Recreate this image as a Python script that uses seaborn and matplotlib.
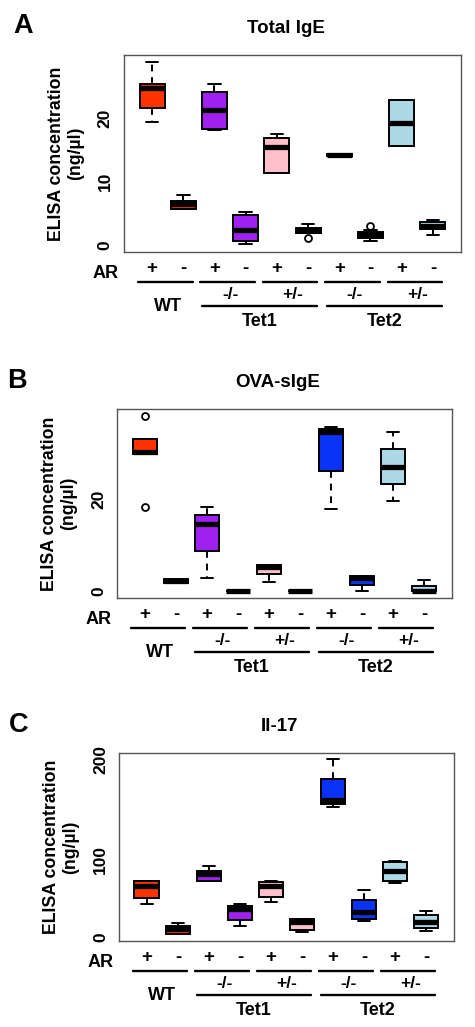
import numpy as np
import pandas as pd
import matplotlib
matplotlib.use('Agg')
import matplotlib.pyplot as plt
import matplotlib.transforms as mtransforms
import seaborn as sns

# groups (genotype x allergic rhinitis)
genotype = ['WT', 'WT', 'Tet1 -/-', 'Tet1 -/-', 'Tet1 +/-', 'Tet1 +/-',
            'Tet2 -/-', 'Tet2 -/-', 'Tet2 +/-', 'Tet2 +/-']
ar = ['+', '-', '+', '-', '+', '-', '+', '-', '+', '-']
box_colors = ['#FF3300', '#FF3300', '#A020F0', '#A020F0', '#FFC0CB', '#FFC0CB',
              '#0A33F5', '#0A33F5', '#ADD8E6', '#ADD8E6']

total_ige = [
    [19.4, 21.6, 24.8, 25.4, 28.8],
    [5.65, 5.65, 6.5, 6.96, 7.85],
    [18.1, 18.35, 21.2, 24.05, 25.3],
    [0.1, 0.58, 2.36, 4.66, 5.2],
    [11.3, 11.4, 15.5, 16.8, 17.5],
    [1.83, 1.83, 2.36, 2.67, 3.2],
    [13.95, 14.0, 14.1, 14.25, 14.3],
    [0.58, 1.0, 1.5, 1.94, 2.36],
    [15.65, 15.65, 19.2, 22.9, 22.9],
    [1.57, 2.46, 2.9, 3.6, 3.9],
]
total_ige_out_idx = [5, 7]
total_ige_out_val = [1.1, 2.9]

ova_sige = [
    [29.7, 29.7, 30.2, 32.9, 32.9],
    [1.8, 1.8, 2.2, 2.6, 2.6],
    [2.75, 8.65, 14.6, 16.4, 18.2],
    [0.0, 0.02, 0.05, 0.1, 0.15],
    [1.9, 3.6, 5.2, 5.75, 5.75],
    [0.0, 0.02, 0.05, 0.1, 0.15],
    [17.7, 26.0, 34.5, 35.1, 35.7],
    [0.0, 1.4, 2.9, 3.2, 3.2],
    [19.55, 23.2, 27.0, 30.8, 34.5],
    [0.0, 0.0, 0.1, 1.16, 2.4],
]
ova_sige_out_idx = [0, 0]
ova_sige_out_val = [38.0, 18.2]

il17 = [
    [55.7, 61.3, 73.3, 78.7, 78.7],
    [25.0, 25.0, 30.0, 33.0, 36.0],
    [78.0, 78.0, 85.7, 88.3, 93.0],
    [32.7, 38.7, 50.0, 53.0, 55.3],
    [57.0, 62.0, 73.3, 77.3, 78.7],
    [27.3, 29.0, 36.7, 40.0, 40.0],
    [152.3, 155.7, 160.0, 180.7, 200.5],
    [38.3, 40.0, 46.7, 59.3, 69.3],
    [76.0, 78.7, 88.3, 97.7, 98.3],
    [28.3, 30.7, 37.3, 44.3, 47.7],
]

sns.set_style('white')
plt.rcParams['font.family'] = ['Liberation Sans', 'DejaVu Sans']
plt.rcParams['font.weight'] = 'bold'
plt.rcParams['text.color'] = 'black'
plt.rcParams['axes.labelcolor'] = 'black'
plt.rcParams['xtick.color'] = 'black'
plt.rcParams['ytick.color'] = 'black'

group_order = [f'{g} {a}' for g, a in zip(genotype, ar)]
palette = dict(zip(group_order, box_colors))


def below(ax, px):
    # x in data, y = axis bottom shifted down by px pixels
    base = mtransforms.blended_transform_factory(ax.transData, ax.transAxes)
    return base + mtransforms.ScaledTranslation(0, -px / 100.0, ax.figure.dpi_scale_trans)


def draw_panel(ax, values, out_idx, out_val, title, letter, ylim, yticks, ylabels):
    df = pd.DataFrame({
        'group': np.repeat(group_order, [len(v) for v in values]),
        'value': np.concatenate(values),
    })
    sns.boxplot(data=df, x='group', y='value', hue='group', order=group_order,
                palette=palette, saturation=1, whis=np.inf, width=0.8,
                linecolor='black', linewidth=1.4, legend=False, ax=ax,
                medianprops={'linewidth': 3.8, 'color': 'black', 'solid_capstyle': 'butt'},
                whiskerprops={'linestyle': (0, (3.5, 3))})
    if out_idx:
        odf = pd.DataFrame({'group': [group_order[i] for i in out_idx], 'value': out_val})
        sns.stripplot(data=odf, x='group', y='value', order=group_order, jitter=False,
                      color='white', edgecolor='black', linewidth=1.3, size=5, ax=ax)

    ax.set_xlim(-0.9, 9.9)
    ax.set_ylim(*ylim)
    ax.set_yticks(yticks)
    ax.set_yticklabels(ylabels, fontsize=12.5, fontweight='bold', rotation=90, va='center')
    ax.set_xticks(range(len(ar)))
    ax.set_xticklabels(ar, fontsize=13.5, fontweight='bold')
    ax.tick_params(axis='both', length=4.5, width=1, color='#333333', direction='out')
    ax.tick_params(axis='x', pad=1.5)
    ax.tick_params(axis='y', pad=3.5)
    ax.set_xlabel('')
    ax.set_ylabel('')
    for s in ax.spines.values():
        s.set_visible(True)
        s.set_color('#555555')
        s.set_linewidth(1)

    ax.text(-0.172, 0.5, 'ELISA concentration\n(ng/\u00b5l)', transform=ax.transAxes,
            rotation=90, ha='center', va='center', fontsize=12.8, fontweight='bold',
            linespacing=1.15)
    ax.set_title(title, fontsize=13.5, fontweight='bold', x=0.48, pad=16)
    ax.text(-0.30, 1.15, letter, transform=ax.transAxes, fontsize=19.5,
            fontweight='bold', ha='center', va='center')

    # AR row and genotype brackets
    ax.text(-1.5, 0, 'AR', transform=below(ax, 21), fontsize=13, fontweight='bold',
            ha='center', va='center')
    pairs = [(0, 1), (2, 3), (4, 5), (6, 7), (8, 9)]
    pair_labels = ['', '-/-', '+/-', '-/-', '+/-']
    for (a, b), lab in zip(pairs, pair_labels):
        ax.plot([a - 0.45, b + 0.3], [0, 0], color='black', lw=1.7, clip_on=False,
                transform=below(ax, 30))
        if lab:
            ax.text((a + b) / 2, 0, lab, transform=below(ax, 42), fontsize=12.5,
                    fontweight='bold', ha='center', va='center')
    ax.text(0.5, 0, 'WT', transform=below(ax, 54), fontsize=13, fontweight='bold',
            ha='center', va='center')
    for a, b, lab in [(2, 5, 'Tet1'), (6, 9, 'Tet2')]:
        ax.plot([a - 0.4, b + 0.3], [0, 0], color='black', lw=1.7, clip_on=False,
                transform=below(ax, 54))
        ax.text((a + b) / 2 - 0.05, 0, lab, transform=below(ax, 69), fontsize=13,
                fontweight='bold', ha='center', va='center')


fig = plt.figure(figsize=(4.75, 10.27), dpi=100)
ax_a = fig.add_axes([0.261, 0.7546, 0.7095, 0.1918])
ax_b = fig.add_axes([0.2463, 0.4177, 0.7053, 0.1840])
ax_c = fig.add_axes([0.2505, 0.0837, 0.7053, 0.1831])

draw_panel(ax_a, total_ige, total_ige_out_idx, total_ige_out_val, 'Total IgE', 'A',
           (-1.15, 29.95), [0, 5, 10, 15, 20, 25], ['0', '', '10', '', '20', ''])
draw_panel(ax_b, ova_sige, ova_sige_out_idx, ova_sige_out_val, 'OVA-sIgE', 'B',
           (-1.52, 39.5), [0, 10, 20, 30], ['0', '', '20', ''])
draw_panel(ax_c, il17, [], [], 'Il-17', 'C',
           (18, 207), [50, 100, 150, 200], ['', '100', '', '200'])
# the "0" label sits at the bottom edge of the Il-17 axis in the original
ax_c.text(-0.055, 0.02, '0', transform=ax_c.transAxes, rotation=90, fontsize=12.5,
          fontweight='bold', ha='center', va='center')

fig.savefig('out.png', dpi=100)
